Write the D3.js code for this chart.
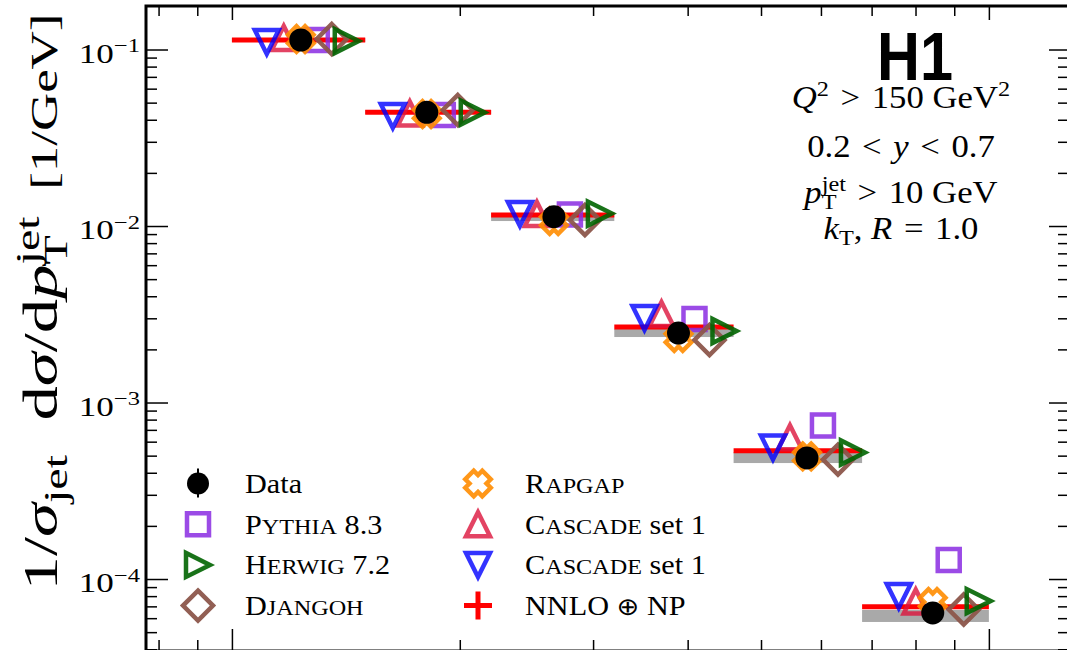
<!DOCTYPE html>
<html>
<head>
<meta charset="utf-8">
<script src="https://cdn.jsdelivr.net/npm/d3@7"></script>
<style>
  body { margin: 0; background: #fff; }
  svg { font-family: "Liberation Serif", "DejaVu Serif", serif; }
</style>
</head>
<body>
<div id="chart"></div>
<script>
// jet pT bins (GeV) and the measured / predicted cross sections
const binEdges = [10, 15, 22, 32, 46, 68, 100];
const dataPt = [12.33, 18.09, 26.63, 38.9, 57.5, 84.3];
const dataXs = [0.1132, 0.04407, 0.01129, 0.002476, 0.000485, 6.42e-5];
const nnloXs = [0.1132, 0.0441, 0.01154, 0.002678, 0.000533, 6.97e-5];
const nnloLo = [0.1103, 0.0431, 0.01067, 0.00235, 0.000454, 5.71e-5];
const nnloHi = [0.1162, 0.04542, 0.01185, 0.002609, 0.000524, 6.68e-5];
const pythiaXs = [0.1132, 0.04254, 0.01162, 0.002972, 0.000741, 1.281e-4];
const herwigXs = [0.1117, 0.04395, 0.01177, 0.002542, 0.000521, 7.5e-5];
const djangohXs = [0.1147, 0.04542, 0.01081, 0.00226, 0.000475, 6.72e-5];
const rapgapXs = [0.1147, 0.0431, 0.01067, 0.002319, 0.000495, 7.41e-5];
const cascadeUpXs = [0.1162, 0.04339, 0.01169, 0.003172, 0.000635, 7.46e-5];
const cascadeDownXs = [0.1103, 0.04198, 0.01169, 0.003012, 0.000556, 8.01e-5];
const yTickLabels = ["−1", "−2", "−3", "−4"];

const width = 1067, height = 650;
const frame = { left: 146, top: 6, right: 1069, bottom: 651 };

const svg = d3.select("#chart").append("svg")
    .attr("width", width)
    .attr("height", height);

const x = d3.scaleLog().domain([7.7, 127.6]).range([frame.left, frame.right]);
const y = d3.scaleLog().domain([3.91e-5, 0.1764]).range([frame.bottom, frame.top]);

// marker shapes, centred on 0,0
const plusPts = [[-1,-2],[-1,-1],[-2,-1],[-2,1],[-1,1],[-1,2],[1,2],[1,1],[2,1],[2,-1],[1,-1],[1,-2]];
const shapes = {
    square: s => `M${-s},${-s}H${s}V${s}H${-s}Z`,
    triUp: s => `M0,${-s}L${s},${s}L${-s},${s}Z`,
    triDown: s => `M0,${s}L${s},${-s}L${-s},${-s}Z`,
    triRight: s => `M${s},0L${-s},${-s}L${-s},${s}Z`,
    diamond: s => `M0,${-s}L${s},0L0,${s}L${-s},0Z`,
    xfill: s => "M" + plusPts.map(([a, b]) => {
        const u = a * s / 4, v = b * s / 4;
        return [((u - v) * Math.SQRT1_2).toFixed(2), ((u + v) * Math.SQRT1_2).toFixed(2)].join(",");
    }).join("L") + "Z"
};

// models in drawing order; dx is the horizontal marker shift in px
const models = [
    { name: "pythia", values: pythiaXs, shape: "square", size: 11, color: "#8a2be2", opacity: 0.85, dx: 16 },
    { name: "cascadeUp", values: cascadeUpXs, shape: "triUp", size: 12, color: "#dc143c", opacity: 0.8, dx: -17 },
    { name: "cascadeDown", values: cascadeDownXs, shape: "triDown", size: 12, color: "#0000ff", opacity: 0.8, dx: -34 },
    { name: "rapgap", values: rapgapXs, shape: "xfill", size: 24, color: "#ff8c00", opacity: 0.9, dx: 0 },
    { name: "djangoh", values: djangohXs, shape: "diamond", size: 15, color: "#8c564b", opacity: 0.95, dx: 31 },
    { name: "herwig", values: herwigXs, shape: "triRight", size: 12, color: "#006400", opacity: 0.9, dx: 46 }
];

// little layout helper for math-like labels (italics, sub/superscripts, small caps)
function drawMath(parent, parts, size) {
    const g = parent.append("g");
    let cx = 0, lastX = 0;
    parts.forEach(p => {
        const base = size * (p.k || 1);
        const small = p.sub || p.sup;
        const fs = small ? base * 0.7 : base;
        const dy = p.sub ? base * 0.2 : p.sup ? -base * 0.38 : 0;
        const x0 = p.stack ? lastX : cx;
        const t = g.append("text")
            .attr("x", x0)
            .attr("y", dy)
            .style("font-size", fs + "px")
            .style("font-style", p.it ? "italic" : "normal")
            .style("font-family", p.font || null);
        if (p.sc) {
            // hand-made small caps: first letter full size, the rest smaller capitals
            t.append("tspan").text(p.t[0]);
            t.append("tspan").style("font-size", (fs * 0.8) + "px").text(p.t.slice(1).toUpperCase());
        } else {
            t.text(p.t);
        }
        const w = t.node().getComputedTextLength();
        if (p.stack) {
            cx = Math.max(cx, x0 + w);
        } else {
            lastX = x0;
            cx = x0 + w;
        }
    });
    return { g, width: cx };
}

function placeMath(parent, parts, size, px, py, anchor, sx) {
    const m = drawMath(parent, parts, size);
    m.g.attr("transform", `translate(${px - m.width * sx * anchor},${py}) scale(${sx},1)`);
    return m;
}

const textStretch = 1.12;

// NNLO band and line
const bins = d3.range(dataPt.length);
svg.append("g").selectAll("rect")
    .data(bins)
    .enter()
    .append("rect")
    .attr("x", i => x(binEdges[i]))
    .attr("width", i => x(binEdges[i + 1]) - x(binEdges[i]))
    .attr("y", i => y(nnloHi[i]))
    .attr("height", i => y(nnloLo[i]) - y(nnloHi[i]))
    .attr("fill", "#a9a9a9");

svg.append("g").selectAll("line")
    .data(bins)
    .enter()
    .append("line")
    .attr("x1", i => x(binEdges[i]))
    .attr("x2", i => x(binEdges[i + 1]))
    .attr("y1", i => y(nnloXs[i]))
    .attr("y2", i => y(nnloXs[i]))
    .attr("stroke", "#ff0000")
    .attr("stroke-width", 5);

// model markers
models.forEach(m => {
    svg.append("g").selectAll("path")
        .data(bins)
        .enter()
        .append("path")
        .attr("transform", i => `translate(${x(dataPt[i]) + m.dx},${y(m.values[i])})`)
        .attr("d", shapes[m.shape](m.size))
        .attr("fill", "none")
        .attr("stroke", m.color)
        .attr("stroke-width", 4.5)
        .attr("stroke-linejoin", "miter")
        .attr("opacity", m.opacity);
});

// data points
svg.append("g").selectAll("circle")
    .data(bins)
    .enter()
    .append("circle")
    .attr("cx", i => x(dataPt[i]))
    .attr("cy", i => y(dataXs[i]))
    .attr("r", 11.5)
    .attr("fill", "#000");

// axes: major and minor ticks pointing inwards on all four sides
const xMajor = x.ticks().filter(v => Math.abs(Math.log10(v) % 1) < 1e-9);
const xMinor = x.ticks().filter(v => !xMajor.includes(v));
const yAll = y.ticks();
const yMajor = yAll.filter(v => Math.abs(Math.log10(v) - Math.round(Math.log10(v))) < 1e-9);
const yMinor = yAll.filter(v => !yMajor.includes(v));

function tickAxis(axisFn, scale, values, size, transform) {
    const g = svg.append("g")
        .attr("transform", transform)
        .call(axisFn(scale).tickValues(values).tickSize(size).tickFormat(""));
    g.select(".domain").remove();
    g.selectAll(".tick line").attr("stroke", "#000").attr("stroke-width", 1.5);
}

tickAxis(d3.axisBottom, x, xMajor, -22, `translate(0,${frame.bottom})`);
tickAxis(d3.axisBottom, x, xMinor, -11, `translate(0,${frame.bottom})`);
tickAxis(d3.axisTop, x, xMajor, -14, `translate(0,${frame.top})`);
tickAxis(d3.axisTop, x, xMinor, -10, `translate(0,${frame.top})`);
tickAxis(d3.axisLeft, y, yMajor, -22, `translate(${frame.left},0)`);
tickAxis(d3.axisLeft, y, yMinor, -11, `translate(${frame.left},0)`);
tickAxis(d3.axisRight, y, yMajor, -20, `translate(${frame.right},0)`);
tickAxis(d3.axisRight, y, yMinor, -11, `translate(${frame.right},0)`);

// frame
svg.append("rect")
    .attr("x", frame.left)
    .attr("y", frame.top)
    .attr("width", frame.right - frame.left)
    .attr("height", frame.bottom - frame.top)
    .attr("fill", "none")
    .attr("stroke", "#000")
    .attr("stroke-width", 3);

// y tick labels 10^n
yMajor.slice().sort((a, b) => b - a).forEach((v, i) => {
    placeMath(svg, [{ t: "10" }, { t: yTickLabels[i], sup: true }], 27,
        frame.left - 6, y(v) + 13, 1, 1.3);
});

// y axis title, fitted to the length it has in the reference
const yTitle = drawMath(svg, [
    { t: "1/", k: 1.3 }, { t: "σ", it: true, k: 1.3 }, { t: "jet", sub: true, k: 1.3 },
    { t: "\u2002d", k: 1.3 }, { t: "σ", it: true, k: 1.3 }, { t: "/d", k: 1.3 }, { t: "p", it: true, k: 1.3 },
    { t: "T", sub: true, k: 1.3 }, { t: "jet", sup: true, stack: true, k: 1.3 },
    { t: "\u2002[1/GeV]" }
], 37);
const yTitleStretch = 577 / yTitle.width;
yTitle.g.attr("transform", `translate(57,${302 + 577 / 2}) rotate(-90) scale(${yTitleStretch},1)`);

// H1 label and selection cuts
svg.append("text")
    .attr("x", 877)
    .attr("y", 80)
    .attr("textLength", 76)
    .attr("lengthAdjust", "spacingAndGlyphs")
    .style("font-family", "'Liberation Sans', Arial, sans-serif")
    .style("font-weight", "bold")
    .style("font-size", "68px")
    .text("H1");

const cutLines = [
    { y: 108, parts: [{ t: "Q", it: true }, { t: "2", sup: true }, { t: "\u2004>\u2004150\u00a0GeV" }, { t: "2", sup: true }] },
    { y: 157, parts: [{ t: "0.2\u2004<\u2004" }, { t: "y", it: true }, { t: "\u2004<\u20040.7" }] },
    { y: 203, parts: [{ t: "p", it: true }, { t: "T", sub: true }, { t: "jet", sup: true, stack: true }, { t: "\u2004>\u200410\u00a0GeV" }] },
    { y: 239, parts: [{ t: "k", it: true }, { t: "T", sub: true }, { t: ",\u00a0" }, { t: "R", it: true }, { t: "\u2004=\u20041.0" }] }
];
cutLines.forEach(l => placeMath(svg, l.parts, 31, 901, l.y, 0.5, 1.12));

// legend
const legendRows = [483.5, 524.2, 564.9, 605.6];
const legendLeft = [
    { parts: [{ t: "Data" }] },
    { model: models[0], parts: [{ t: "Pythia", sc: true }, { t: "\u00a08.3" }] },
    { model: models[5], parts: [{ t: "Herwig", sc: true }, { t: "\u00a07.2" }] },
    { model: models[4], parts: [{ t: "Djangoh", sc: true }] }
];
const legendRight = [
    { model: models[3], parts: [{ t: "Rapgap", sc: true }] },
    { model: models[1], parts: [{ t: "Cascade", sc: true }, { t: "\u00a0set\u00a01" }] },
    { model: models[2], parts: [{ t: "Cascade", sc: true }, { t: "\u00a0set\u00a01" }] },
    { nnlo: true, parts: [{ t: "NNLO\u00a0" }, { t: "⊕", font: "DejaVu Sans", k: 0.9 }, { t: "\u00a0NP" }] }
];

function legendColumn(items, mx, tx) {
    items.forEach((it, i) => {
        const cy = legendRows[i];
        const g = svg.append("g").attr("transform", `translate(${mx},${cy})`);
        if (it.model) {
            g.append("path")
                .attr("d", shapes[it.model.shape](it.model.size))
                .attr("fill", "none")
                .attr("stroke", it.model.color)
                .attr("stroke-width", 4.5)
                .attr("opacity", it.model.opacity);
        } else if (it.nnlo) {
            g.append("path")
                .attr("d", "M-14,0H14M0,-14V14")
                .attr("stroke", "#ff0000")
                .attr("stroke-width", 5);
        } else {
            g.append("line").attr("y1", -15).attr("y2", 14)
                .attr("stroke", "#000").attr("stroke-width", 2);
            g.append("circle").attr("r", 11).attr("fill", "#000");
        }
        placeMath(svg, it.parts, 27, tx, cy + 9.5, 0, textStretch);
    });
}
legendColumn(legendLeft, 198, 245);
legendColumn(legendRight, 478, 525);
</script>
</body>
</html>
